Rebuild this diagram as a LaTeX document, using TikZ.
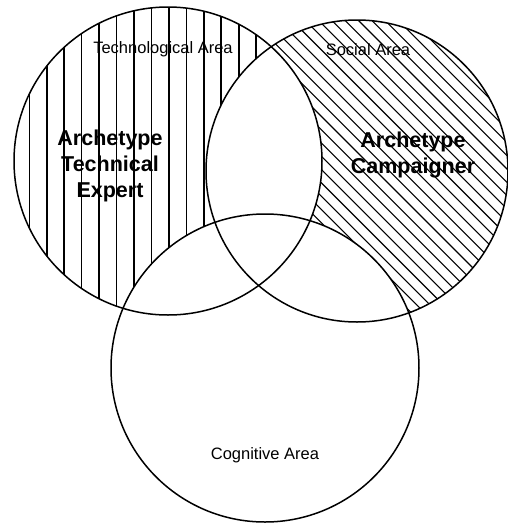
\documentclass[tikz,border=0pt]{standalone}
\usepackage{fontspec}
\setmainfont{Liberation Sans}
\usepackage{tikz}
\usetikzlibrary{positioning}
\tikzset{
  ring/.style={draw,line width=1.5pt},
  vhatch/.style={line width=1.6pt},
  dhatch/.style={line width=1.1pt},
  areaname/.style={inner sep=0pt,font=\fontsize{16.5}{19}\selectfont},
  archetype/.style={inner sep=0pt,align=center,font=\bfseries\fontsize{21.5}{26}\selectfont}
}

\begin{document}
\begin{tikzpicture}[x=1pt,y=-1pt]
    \useasboundingbox (0,0) rectangle (508,523);
    \coordinate (tech) at (168,161);
    \coordinate (social) at (357,171);
    \coordinate (cog) at (265,368);

    % hatching
    \begin{scope}
      \clip (tech) circle[radius=154pt];
      \foreach \k in {0,...,13}
        \draw[vhatch] ({29.3+17.45*\k},0) -- ({29.3+17.45*\k},330);
    \end{scope}
    \begin{scope}
      \clip (social) circle[radius=151pt];
      \foreach \k in {-22,...,25}
        \draw[dhatch] (180,{-25+13.3*\k}) -- (520,{315+13.3*\k});
    \end{scope}

    % overlaps stay blank
    \fill[white] (cog) circle[radius=154pt];
    \begin{scope}
      \clip (tech) circle[radius=154pt];
      \fill[white] (social) circle[radius=151pt];
    \end{scope}

    \draw[ring] (tech) circle[radius=154pt];
    \draw[ring] (social) circle[radius=151pt];
    \draw[ring] (cog) circle[radius=154pt];

    \node[areaname] (techlbl) at (163,49) {Technological Area};
    \node[areaname] (sociallbl) at (368,50) {Social Area};
    \node[areaname] (coglbl) at (265,455) {Cognitive Area};
    \node[archetype] (techtype) at (110,166) {Archetype\\Technical\\Expert};
    \node[archetype] (socialtype) at (413,155) {Archetype\\Campaigner};
\end{tikzpicture}
\end{document}
